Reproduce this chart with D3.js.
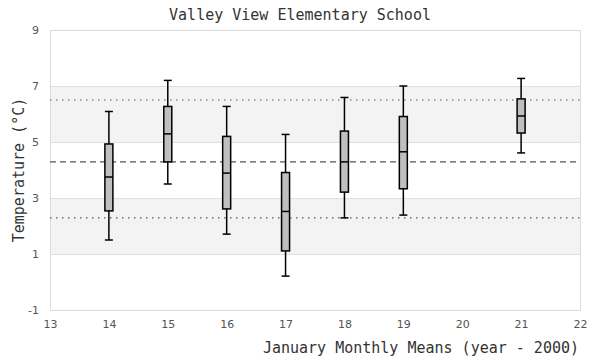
<!DOCTYPE html>
<html>
<head>
<meta charset="utf-8">
<script src="https://cdn.jsdelivr.net/npm/d3@7"></script>
<style>
  html, body { margin: 0; padding: 0; background: #fff; }
  svg { display: block; }
</style>
</head>
<body>
<svg id="chart" width="600" height="360"></svg>
<script>
// ---- data ----
const years      = [14, 15, 16, 17, 18, 19, 21];
const whiskerLow = [1.50, 3.50, 1.71, 0.21, 2.29, 2.39, 4.61];
const q1         = [2.54, 4.29, 2.61, 1.11, 3.21, 3.33, 5.32];
const medians    = [3.75, 5.29, 3.89, 2.52, 4.29, 4.65, 5.93];
const q3         = [4.93, 6.27, 5.20, 3.91, 5.39, 5.91, 6.54];
const whiskerHigh= [6.09, 7.20, 6.27, 5.27, 6.59, 7.00, 7.27];
const meanLine   = 4.29;
const sdLines    = [2.29, 6.50];
const xTicks     = [13, 14, 15, 16, 17, 18, 19, 20, 21, 22];
const yTicks     = [-1, 1, 3, 5, 7, 9];
const bands      = [[1, 3], [5, 7]];
const titleText  = "Valley View Elementary School";
const xLabel     = "January Monthly Means (year - 2000)";
const yLabel     = "Temperature (°C)";

// ---- layout ----
const svg = d3.select("#chart");
const L = 50, R = 580, T = 30, B = 310;
const x = d3.scaleLinear().domain([13, 22]).range([L, R]);
const y = d3.scaleLinear().domain([-1, 9]).range([B, T]);
const mono = "'DejaVu Sans Mono', monospace";
const sans = "'DejaVu Sans', sans-serif";

// bands
svg.append("g").selectAll("rect").data(bands).join("rect")
  .attr("x", L).attr("width", R - L)
  .attr("y", d => y(d[1])).attr("height", d => y(d[0]) - y(d[1]))
  .attr("fill", "#f3f3f3");

// grid lines
svg.append("g").selectAll("line").data(yTicks.slice(1, -1)).join("line")
  .attr("x1", L).attr("x2", R)
  .attr("y1", d => Math.round(y(d)) + 0.5).attr("y2", d => Math.round(y(d)) + 0.5)
  .attr("stroke", "#e0e0e0").attr("stroke-width", 1);

// plot border
svg.append("rect").attr("x", L + 0.5).attr("y", T + 0.5)
  .attr("width", R - L).attr("height", B - T)
  .attr("fill", "none").attr("stroke", "#dcdcdc").attr("stroke-width", 1);

// reference lines
svg.append("line").attr("x1", L).attr("x2", R)
  .attr("y1", y(meanLine)).attr("y2", y(meanLine))
  .attr("stroke", "#555").attr("stroke-width", 1.2).attr("stroke-dasharray", "6,4");
svg.append("g").selectAll("line").data(sdLines).join("line")
  .attr("x1", L).attr("x2", R)
  .attr("y1", d => y(d)).attr("y2", d => y(d))
  .attr("stroke", "#555").attr("stroke-width", 1.1).attr("stroke-dasharray", "1.5,4.5");

// axes
const fmt = d => String(d);
const xAxis = d3.axisBottom(x).tickValues(xTicks).tickSize(0).tickPadding(0).tickFormat(fmt);
const gx = svg.append("g").attr("transform", `translate(0,${B + 10})`).call(xAxis);
gx.select(".domain").remove();
gx.selectAll("text").attr("font-family", sans).attr("font-size", 11).attr("fill", "#555").attr("dy", "0.71em");

const yAxis = d3.axisLeft(y).tickValues(yTicks).tickSize(0).tickPadding(0).tickFormat(fmt);
const gy = svg.append("g").attr("transform", `translate(${L - 11},0)`).call(yAxis);
gy.select(".domain").remove();
gy.selectAll("text").attr("font-family", sans).attr("font-size", 11).attr("fill", "#555");

// boxes
const data = years.map((yr, i) => ({yr, lo: whiskerLow[i], q1: q1[i], med: medians[i], q3: q3[i], hi: whiskerHigh[i]}));
const bw = 8;
const g = svg.append("g").selectAll("g").data(data).join("g");
g.append("line").attr("x1", d => x(d.yr)).attr("x2", d => x(d.yr))
  .attr("y1", d => y(d.hi)).attr("y2", d => y(d.lo))
  .attr("stroke", "#000").attr("stroke-width", 1.5);
g.append("line").attr("x1", d => x(d.yr) - bw / 2).attr("x2", d => x(d.yr) + bw / 2)
  .attr("y1", d => y(d.hi)).attr("y2", d => y(d.hi))
  .attr("stroke", "#000").attr("stroke-width", 1.5);
g.append("line").attr("x1", d => x(d.yr) - bw / 2).attr("x2", d => x(d.yr) + bw / 2)
  .attr("y1", d => y(d.lo)).attr("y2", d => y(d.lo))
  .attr("stroke", "#000").attr("stroke-width", 1.5);
g.append("rect").attr("x", d => x(d.yr) - bw / 2).attr("width", bw)
  .attr("y", d => y(d.q3)).attr("height", d => y(d.q1) - y(d.q3))
  .attr("fill", "#bfbfbf").attr("stroke", "#000").attr("stroke-width", 1.5);
g.append("line").attr("x1", d => x(d.yr) - bw / 2).attr("x2", d => x(d.yr) + bw / 2)
  .attr("y1", d => y(d.med)).attr("y2", d => y(d.med))
  .attr("stroke", "#000").attr("stroke-width", 1.5);

// texts
svg.append("text").attr("x", 300).attr("y", 20).attr("text-anchor", "middle")
  .attr("font-family", mono).attr("font-size", 15).attr("fill", "#333").text(titleText);
svg.append("text").attr("x", R - 1).attr("y", 353).attr("text-anchor", "end")
  .attr("font-family", mono).attr("font-size", 15).attr("fill", "#333").text(xLabel);
svg.append("text").attr("transform", `translate(24,${(T + B) / 2}) rotate(-90)`)
  .attr("text-anchor", "middle")
  .attr("font-family", mono).attr("font-size", 15).attr("fill", "#333").text(yLabel);
</script>
</body>
</html>
